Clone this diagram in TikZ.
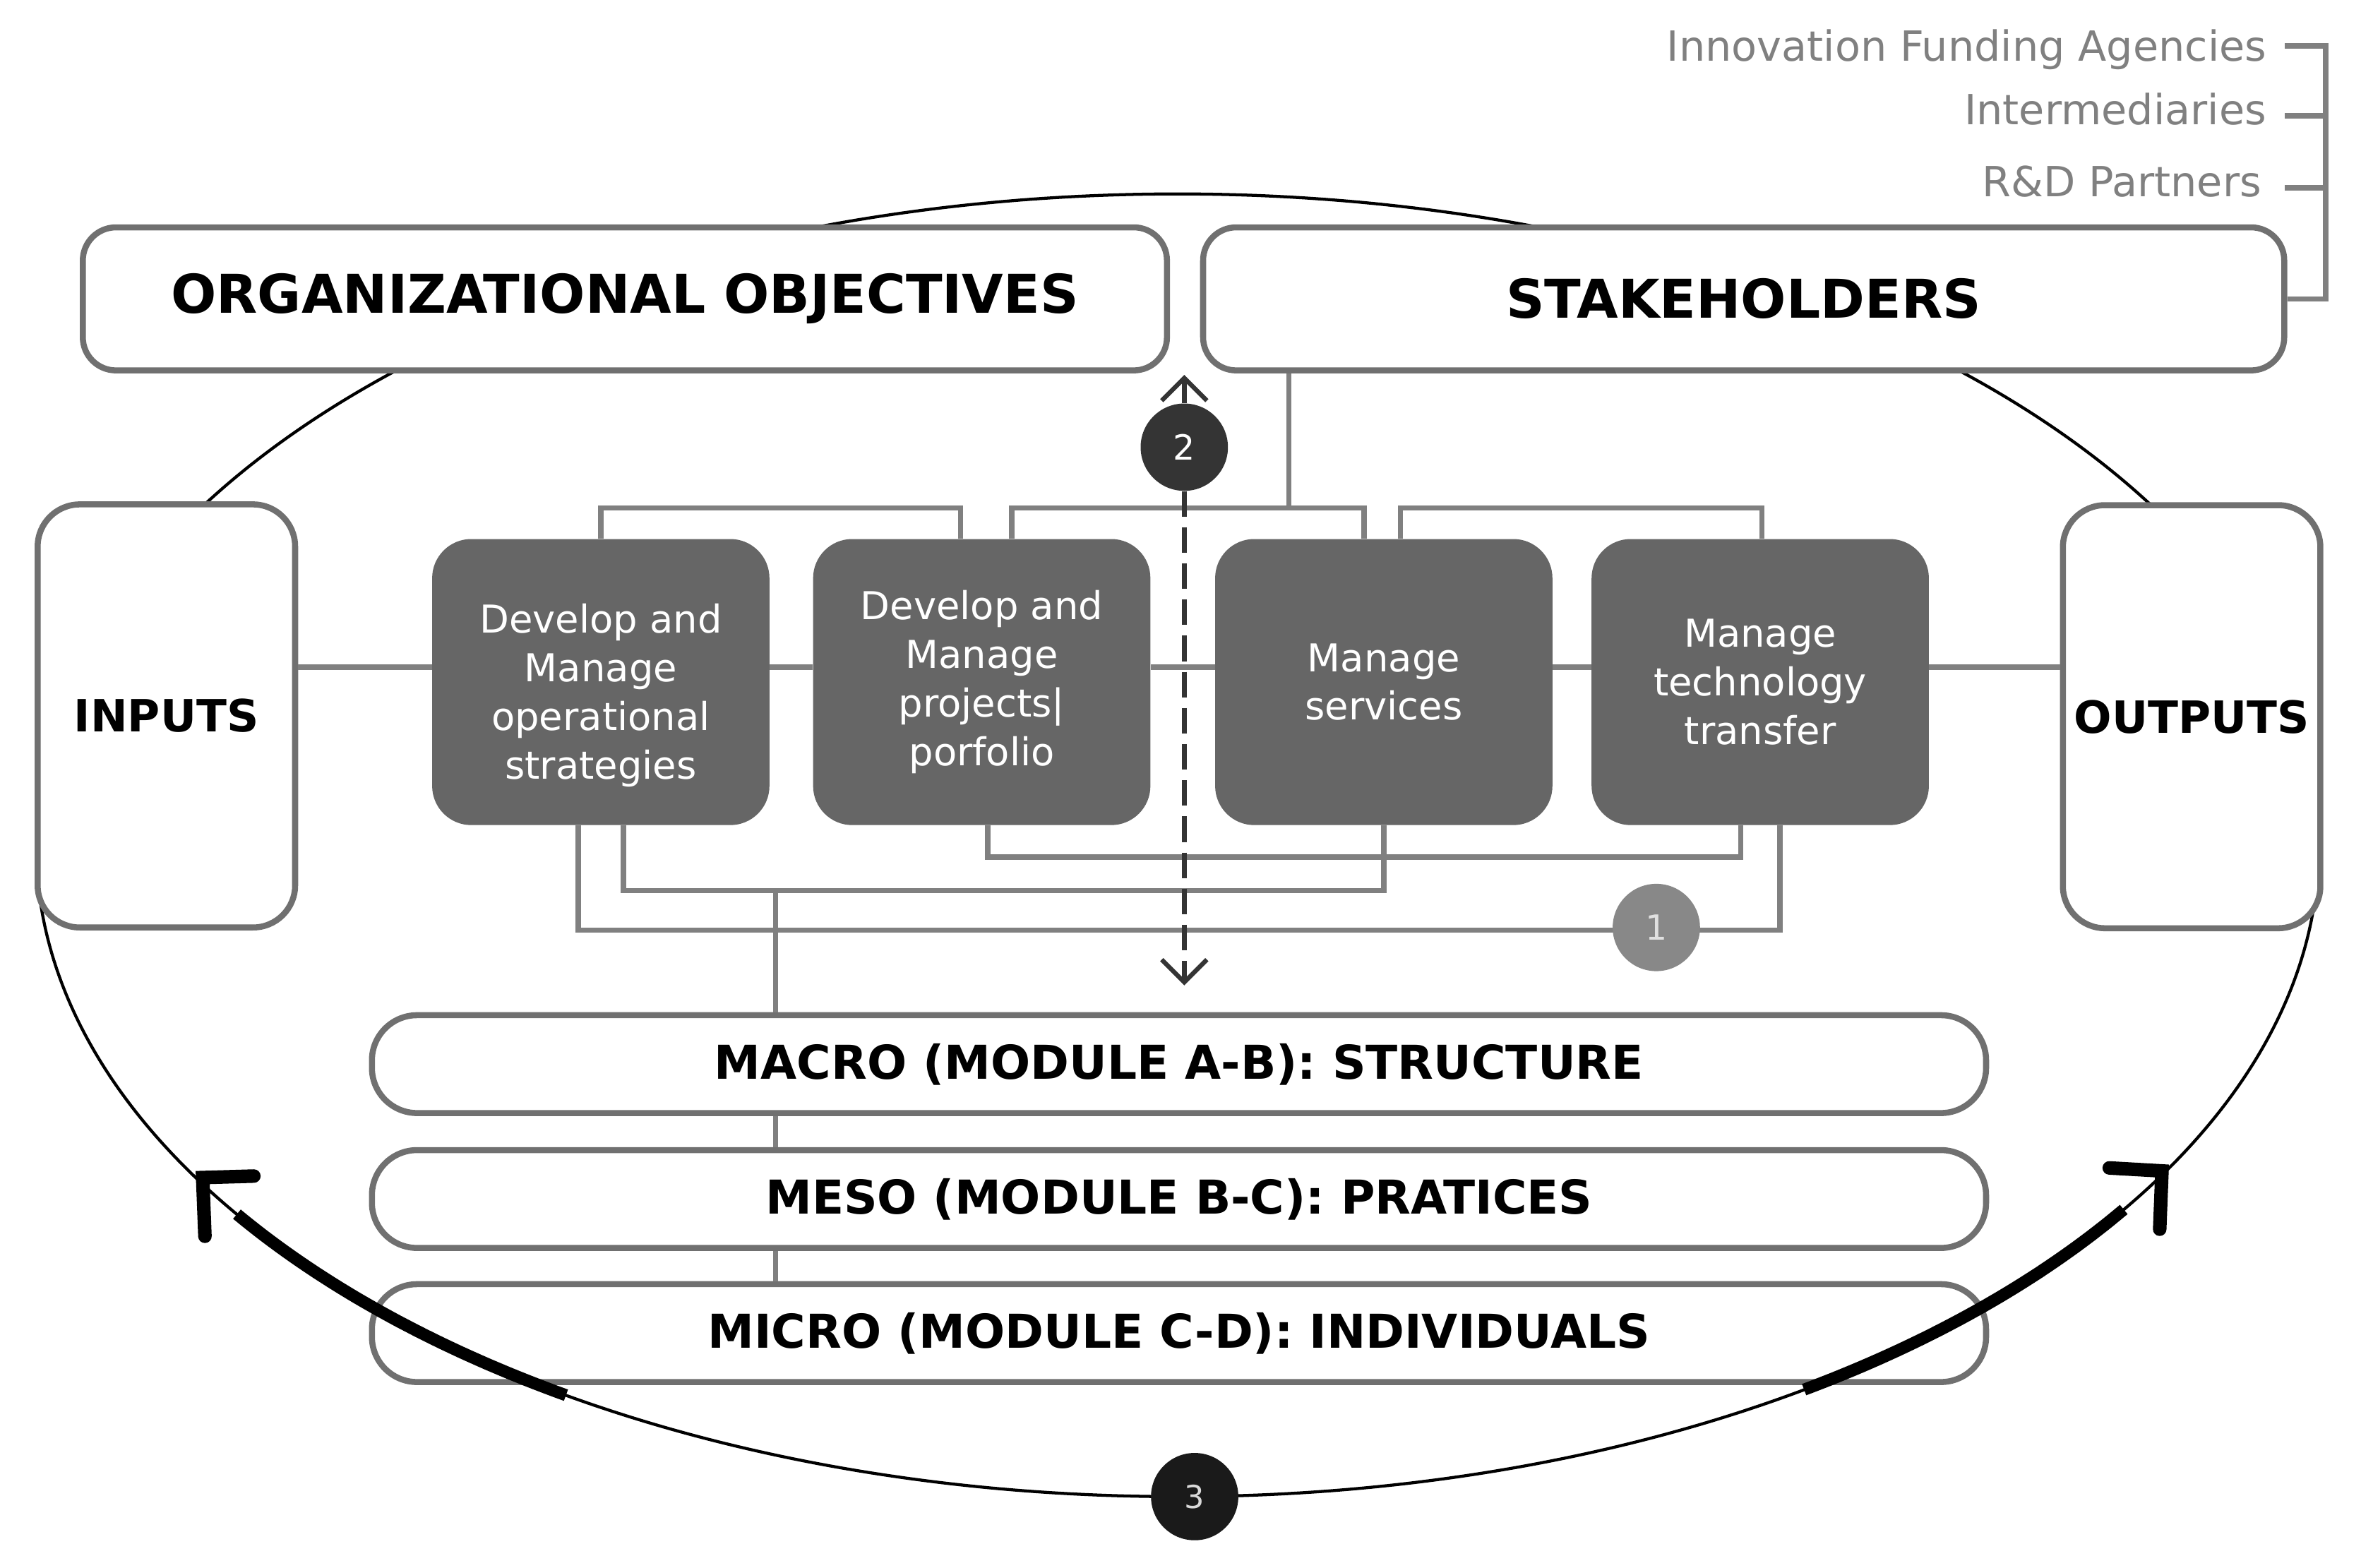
\documentclass[tikz,border=0pt]{standalone}
\usepackage{fontspec}
\setmainfont{DejaVu Sans}
\usepackage{tikz}
\usetikzlibrary{positioning,arrows.meta}
\definecolor{lineGray}{RGB}{128,128,128}
\definecolor{borderGray}{RGB}{112,112,112}
\definecolor{processGray}{RGB}{102,102,102}
\definecolor{listGray}{RGB}{128,128,128}
\definecolor{badgeDark}{RGB}{52,52,52}
\definecolor{badgeBlack}{RGB}{26,26,26}
\definecolor{badgeLight}{RGB}{136,136,136}
\tikzstyle{diagram} = [x = 1pt, y = -1pt]
\tikzstyle{frameBox} = [draw=borderGray, line width=4pt, fill=white, text=black, inner sep=0pt]
\tikzstyle{headBox} = [frameBox, minimum height=95pt, rounded corners=22pt, font=\fontsize{35.5}{40}\selectfont\bfseries]
\tikzstyle{sideBox} = [frameBox, minimum width=171pt, minimum height=281pt, rounded corners=28pt, font=\fontsize{29.5}{34}\selectfont\bfseries]
\tikzstyle{layerBox} = [frameBox, minimum width=1072pt, minimum height=65pt, rounded corners=30pt, font=\fontsize{31}{36}\selectfont\bfseries]
\tikzstyle{processStyle} = [fill=processGray, text=white, rounded corners=26pt, minimum width=224pt, minimum height=190pt, align=center, inner sep=0pt, font=\fontsize{25.5}{32.3}\selectfont]
\tikzstyle{link} = [draw=lineGray, line width=3.5pt]
\tikzstyle{dashLink} = [draw=badgeDark, line width=3pt, dash pattern=on 17pt off 7pt, -{Straight Barb[length=15pt, width=30pt]}]
\tikzstyle{badge} = [circle, minimum size=58pt, inner sep=0pt, text=white, font=\fontsize{23}{23}\selectfont]
\tikzstyle{orbit} = [draw=black, line width=2pt]
\tikzstyle{cycleArrow} = [draw=black, line width=8pt]
\tikzstyle{cycleTip} = [draw=black, line width=9pt, line cap=round, line join=miter]
\tikzstyle{listText} = [text=listGray, inner sep=0pt, anchor=base east, font=\fontsize{27.6}{27.6}\selectfont]
\newcommand{\processBox}[3]{\node[processStyle] (#1) at (#2, 453) {#3};}
\newcommand{\layerNode}[3]{\node[layerBox] (#1) at (783, #2) {#3};}

\begin{document}
\begin{tikzpicture}[diagram]
    \useasboundingbox (0,0) rectangle (1568,1041.4);
    % outer cycle
    \draw[orbit] (782,561.4) ellipse [x radius=758pt, y radius=432.6pt];
    \coordinate (flow) at (0,443);
    \coordinate (upper) at (0,337.4);
    \coordinate (lowA) at (0,569.2);
    \coordinate (lowB) at (0,591.5);
    \coordinate (lowC) at (0,617.8);
    % frames
    \node[headBox, minimum width=720pt] (objectives) at (415,198.5) {ORGANIZATIONAL OBJECTIVES};
    \node[headBox, minimum width=718pt] (stakeholders) at (1158,198.5) {STAKEHOLDERS};
    \node[sideBox] (inputs) at (110.5,475.5) {INPUTS};
    \node[sideBox] (outputs) at (1455.5,476) {OUTPUTS};
    \layerNode{macro}{706.75}{MACRO (MODULE A-B): STRUCTURE}
    \layerNode{meso}{796.35}{MESO (MODULE B-C): PRATICES}
    \layerNode{micro}{885.4}{MICRO (MODULE C-D): INDIVIDUALS}
    % processes
    \processBox{strat}{399}{\rule{0pt}{37pt}Develop and\\Manage\\operational\\strategies}
    \processBox{proj}{652}{Develop and\\Manage\\projects|\\porfolio}
    \processBox{serv}{919}{Manage\\services}
    \processBox{trans}{1169}{Manage\\technology\\transfer}
    % stakeholder list
    \node[listText] (agencies) at (1505.4,40.7) {Innovation Funding Agencies};
    \node[listText] (interm) at (1505.4,82.9) {Intermediaries};
    \node[listText] (partners) at (1502,130.6) {R\&D Partners};
    \draw[link] ([shift={(12pt,10.2pt)}]agencies.base east) -- ++(27.2,0) |- (stakeholders.east);
    \draw[link] ([shift={(12pt,6pt)}]interm.base east) -- ++(27.2,0);
    \draw[link] ([shift={(15.4pt,5.9pt)}]partners.base east) -- ++(27.2,0);
    % main flow
    \foreach \from/\to in {inputs/strat, strat/proj, proj/serv, serv/trans, trans/outputs} {
      \draw[link] (\from.east |- flow) -- (\to.west |- flow);
    }
    % upper loops
    \draw[link] (strat.north) -- (strat.north |- upper) -| ([xshift=-14pt]proj.north);
    \draw[link] ([xshift=20pt]proj.north) -- ([xshift=20pt]proj.north |- upper) -| ([xshift=-13pt]serv.north);
    \draw[link] ([xshift=11pt]serv.north) -- ([xshift=11pt]serv.north |- upper) -| ([xshift=1pt]trans.north);
    \draw[link] ([xshift=-302pt]stakeholders.south) -- ([xshift=-302pt]stakeholders.south |- upper);
    % lower loops
    \draw[link] ([xshift=4pt]proj.south) -- ([xshift=4pt]proj.south |- lowA) -| ([xshift=-13pt]trans.south);
    \draw[link] ([xshift=15pt]strat.south) -- ([xshift=15pt]strat.south |- lowB) -| (serv.south);
    \draw[link] ([xshift=-15pt]strat.south) -- ([xshift=-15pt]strat.south |- lowC) -| ([xshift=13pt]trans.south);
    \draw[link] ([xshift=-268pt]macro.north) -- ([xshift=-268pt]macro.north |- lowB);
    \draw[link] ([xshift=-268pt]macro.south) -- ([xshift=-268pt]meso.north);
    \draw[link] ([xshift=-268pt]meso.south) -- ([xshift=-268pt]micro.north);
    \node[badge, fill=badgeLight, text=white!88!black] (one) at (1100,616) {1};
    % vertical link
    \node[badge, fill=badgeDark] (two) at (786.5,297) {2};
    \coordinate (upTip) at (786.5,249);
    \coordinate (downTip) at (786.5,654.5);
    \draw[dashLink] (two) -- (upTip);
    \draw[dashLink] (two) -- (downTip);
    % cycle arrows
    \draw[cycleArrow] plot[domain=122.4:145.5, samples=40] ({782 + 758 * cos(\x)}, {561.4 + 432.6 * sin(\x)});
    \draw[cycleArrow] plot[domain=34:56.7, samples=40] ({782 + 758 * cos(\x)}, {561.4 + 432.6 * sin(\x)});
    \coordinate (leftTip) at (134.6,782.1);
    \coordinate (rightTip) at (1435.8,777.7);
    \draw[cycleTip] (leftTip) ++(34,-1) -- (leftTip) -- ++(1.5,39);
    \draw[cycleTip] (rightTip) ++(-35,-2) -- (rightTip) -- ++(-1.5,38.7);
    \node[badge, fill=badgeBlack, text=white!85!black, font=\fontsize{21}{21}\selectfont] (three) at (793.4,994) {3};
\end{tikzpicture}
\end{document}
